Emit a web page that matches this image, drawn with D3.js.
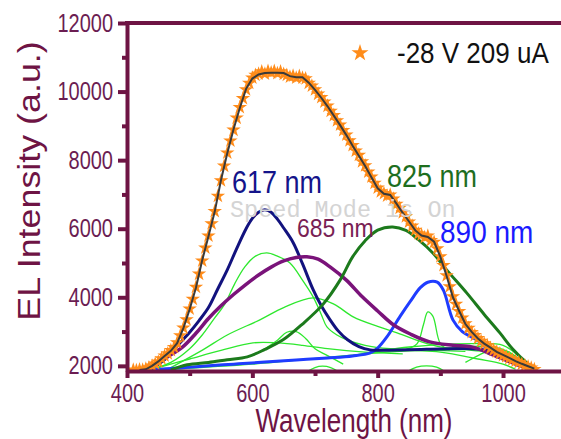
<!DOCTYPE html>
<meta charset="utf-8">
<style type="text/css">
    body { margin: 0; background: white; }
    svg text { font-family: "Liberation Sans", Arial, sans-serif; }
    .axis path, .axis line { stroke: #6e1444; stroke-width: 4; }
    .axis text { fill: #6b1d52; font-size: 20px; }
    .comp { fill: none; }
</style>
<body>
<script src="https://cdn.jsdelivr.net/npm/d3@7"></script>
<script>
    // measured EL spectrum (orange stars): [wavelength nm, intensity]
    var measured = [
        [410,1880],[415,1870],[420,1890],[425,1880],[430,1910],[435,1950],[440,2000],[445,2060],
        [450,2120],[455,2210],[460,2290],[465,2360],[470,2450],[475,2540],[480,2680],[485,2880],
        [490,3110],[495,3350],[500,3660],[505,3950],[510,4300],[515,4680],[520,5060],[525,5440],
        [530,5790],[535,6150],[540,6510],[545,6950],[550,7400],[555,7830],[560,8210],[565,8560],
        [570,8880],[575,9230],[580,9540],[585,9800],[590,10060],[595,10250],[600,10400],[605,10480],
        [610,10520],[615,10580],[620,10520],[625,10600],[630,10550],[635,10600],[640,10530],[645,10580],
        [650,10510],[655,10480],[660,10430],[665,10460],[670,10400],[675,10450],[680,10400],[685,10380],
        [690,10250],[695,10170],[700,10060],[705,9930],[710,9830],[715,9700],[720,9580],[725,9430],
        [730,9310],[735,9150],[740,9030],[745,8870],[750,8740],[755,8570],[760,8430],[765,8270],
        [770,8150],[775,7960],[780,7840],[785,7660],[790,7510],[795,7330],[800,7190],[805,7080],
        [810,7030],[815,6960],[820,6990],[825,6870],[830,6720],[835,6600],[840,6470],[845,6350],
        [850,6200],[855,6080],[860,5960],[865,5860],[870,5820],[875,5750],[880,5790],[885,5660],
        [890,5610],[895,5420],[900,5190],[905,4930],[910,4630],[915,4310],[920,4020],[925,3800],
        [930,3590],[935,3400],[940,3230],[945,3100],[950,2980],[955,2890],[960,2800],[965,2720],
        [970,2650],[975,2590],[980,2520],[985,2460],[990,2410],[995,2360],[1000,2310],[1005,2270],
        [1010,2220],[1015,2180],[1020,2140],[1025,2100],[1030,2050],[1035,2010],[1040,1980],[1045,1940],
        [1050,1900]
    ];

    // cumulative fit (dark gray)
    var fitSum = [
        [420,1880],[430,1900],[440,2000],[450,2130],[460,2290],[470,2440],[480,2660],[490,3100],
        [500,3650],[510,4280],[520,5080],[530,5780],[540,6500],[550,7420],[560,8200],[570,8900],
        [580,9520],[590,10080],[600,10380],[610,10500],[620,10540],[630,10550],[640,10550],[650,10540],
        [660,10450],[670,10420],[680,10420],[690,10260],[700,10050],[710,9820],[720,9570],[730,9300],
        [740,9020],[750,8730],[760,8420],[770,8130],[780,7830],[790,7500],[800,7180],[810,7020],
        [820,6985],[830,6730],[840,6460],[850,6210],[860,5950],[870,5800],[880,5760],[890,5620],
        [900,5180],[910,4620],[920,4000],[930,3600],[940,3220],[950,2990],[960,2800],[970,2650],
        [980,2530],[990,2410],[1000,2320],[1010,2230],[1020,2140],[1030,2060],[1040,1990],[1050,1920]
    ];

    // labelled peaks
    var peak617 = [[430,1900],[450,2050],[465,2260],[480,2580],[500,2980],[515,3320],[530,3700],
        [545,4250],[560,4800],[575,5420],[590,6000],[600,6300],[610,6480],[620,6550],[630,6480],
        [640,6280],[650,6020],[665,5600],[680,4980],[697,4220],[710,3750],[722,3400],[737,3020],
        [752,2760],[770,2560],[788,2466],[850,2470],[900,2490],[950,2500],[990,2400],[1020,2150],[1045,1920]];
    var peak685 = [[420,1880],[441,2030],[465,2270],[489,2554],[510,2950],[530,3380],[550,3750],
        [570,4080],[590,4380],[610,4650],[630,4880],[650,5060],[670,5160],[687,5180],[705,5110],
        [725,4870],[750,4500],[775,4020],[800,3600],[825,3200],[852,2930],[883,2700],[920,2600],
        [950,2554],[984,2320],[1010,2120],[1040,1920]];
    var peak825 = [[470,1880],[496,2030],[530,2100],[560,2180],[592,2262],[620,2480],[649,2758],
        [680,3220],[713,3800],[740,4500],[760,5180],[780,5650],[800,5960],[824,6053],
        [845,5950],[865,5680],[888,5294],[910,4800],[942,4128],[970,3500],[995,2962],[1015,2500],
        [1038,2087],[1050,1920]];
    var peak890 = [[430,1880],[470,1920],[520,1990],[570,2050],[620,2110],[670,2170],[720,2230],
        [760,2290],[788,2380],[800,2520],[815,2850],[836,3450],[852,3880],[868,4280],[880,4440],
        [895,4440],[905,4200],[920,3342],[935,3000],[958,2758],[975,2500],[995,2262],[1020,2050],[1040,1910]];

    // other fitted components (light green)
    var subPeaks = [
        [[440,1900],[470,2100],[500,2500],[520,2900],[540,3400],[556,3800],[572,4400],[588,4886],
         [605,5200],[623,5294],[640,5200],[660,5002],[680,4500],[697,4012],[710,3500],[719,3137],
         [735,2900],[751,2758],[780,2600],[820,2500],[880,2460],[940,2420]],
        [[470,1950],[521,2466],[560,2900],[612,3342],[650,3700],[697,3983],[730,3800],[761,3429],
         [800,3150],[831,2962],[870,2700],[900,2554],[950,2450],[1000,2350],[1040,1950]],
        [[600,2300],[620,2500],[640,2750],[655,2980],[670,3000],[685,2800],[700,2500],[720,2300],[745,2050]],
        [[450,1950],[500,2200],[550,2450],[601,2670],[640,2670],[680,2600],[720,2500],[780,2400],[840,2350]],
        [[845,2480],[863,2650],[873,3200],[880,3575],[888,3450],[900,2650],[915,2450]],
        [[760,2300],[850,2550],[950,2650],[1000,2600],[1030,2200],[1045,1920]],
        [[470,1900],[600,2050],[750,2300],[900,2500],[980,2560],[1010,2400],[1040,1950]],
        [[830,2450],[900,2400],[960,2200],[1000,2050],[1020,1900]],
        [[940,2100],[960,2300],[980,2450],[1000,2450],[1020,2250],[1040,1950]],
        [[685,1800],[700,1950],[712,1990],[725,1950],[740,1800]],
        [[845,1800],[862,1960],[878,2000],[894,1960],[910,1800]]
    ];

    var xTicks = [400, 600, 800, 1000];
    var xMinor = [500, 700, 900];
    var yTicks = [2000, 4000, 6000, 8000, 10000, 12000];
    var yMinor = [3000, 5000, 7000, 9000, 11000];

    var peakNames = ["617 nm", "685 nm", "825 nm", "890 nm"];
    var legendText = "-28 V 209 uA";

    var w = 561, h = 439;
    var mLeft = 127, mTop = 23, mBottom = 371;

    var x = d3.scaleLinear().domain([400, 1100]).range([mLeft, mLeft + 700 * 0.6267]);
    var y = d3.scaleLinear().domain([1850, 12000]).range([mBottom, mTop]);

    var svg = d3.select("body").append("svg")
        .attr("width", w)
        .attr("height", h);

    svg.append("clipPath").attr("id", "plot")
        .append("rect")
        .attr("x", mLeft).attr("y", mTop)
        .attr("width", w - mLeft).attr("height", mBottom - mTop);

    var plot = svg.append("g").attr("clip-path", "url(#plot)");

    var line = d3.line()
        .x(function(d) { return x(d[0]); })
        .y(function(d) { return y(d[1]); })
        .curve(d3.curveCatmullRom.alpha(0.5));

    plot.selectAll(".sub")
        .data(subPeaks)
        .enter()
        .append("path")
        .attr("class", "comp sub")
        .attr("d", line)
        .attr("stroke", "#2ee82e")
        .attr("stroke-width", 1.3);

    var mains = [
        { d: peak890, c: "#1f3cff", sw: 3 },
        { d: peak617, c: "#12127e", sw: 3 },
        { d: peak685, c: "#7a137a", sw: 3.5 },
        { d: peak825, c: "#1c7a1c", sw: 3 }
    ];
    plot.selectAll(".main")
        .data(mains)
        .enter()
        .append("path")
        .attr("class", "comp main")
        .attr("d", function(m) { return line(m.d); })
        .attr("stroke", function(m) { return m.c; })
        .attr("stroke-width", function(m) { return m.sw; });

    // stars
    var star = d3.symbol().type(d3.symbolStar).size(65);
    plot.selectAll(".star")
        .data(measured)
        .enter()
        .append("path")
        .attr("class", "star")
        .attr("d", star)
        .attr("transform", function(d) { return "translate(" + x(d[0]) + "," + y(d[1]) + ")"; })
        .attr("fill", "#ff8c1a");

    plot.append("path")
        .datum(fitSum)
        .attr("class", "comp")
        .attr("d", d3.line().x(function(d) { return x(d[0]); }).y(function(d) { return y(d[1]); }))
        .attr("stroke", "#3a3a3a")
        .attr("stroke-width", 2);

    // axes
    var gx = svg.append("g").attr("class", "axis")
        .attr("transform", "translate(0," + mBottom + ")")
        .call(d3.axisBottom(x).tickValues(xTicks).tickSize(7).tickSizeOuter(0).tickFormat(d3.format("d")));
    gx.selectAll("text")
        .attr("y", null).attr("dy", null)
        .attr("transform", "translate(0,31) scale(1,1.3)");

    svg.append("g").attr("class", "axis")
        .attr("transform", "translate(0," + mBottom + ")")
        .call(d3.axisBottom(x).tickValues(xMinor).tickSize(5).tickSizeOuter(0).tickFormat(""))
        .select(".domain").remove();

    var gy = svg.append("g").attr("class", "axis")
        .attr("transform", "translate(" + mLeft + ",0)")
        .call(d3.axisLeft(y).tickValues(yTicks).tickSize(9).tickSizeOuter(0).tickFormat(d3.format("d")));
    gy.selectAll("text")
        .attr("x", null).attr("dy", null)
        .attr("transform", "translate(-14,8) scale(1,1.3)");

    svg.append("g").attr("class", "axis")
        .attr("transform", "translate(" + mLeft + ",0)")
        .call(d3.axisLeft(y).tickValues(yMinor).tickSize(5).tickSizeOuter(0).tickFormat(""))
        .select(".domain").remove();

    // top frame
    svg.append("line")
        .attr("x1", mLeft - 2).attr("x2", w)
        .attr("y1", mTop).attr("y2", mTop)
        .attr("stroke", "#6e1444").attr("stroke-width", 4);

    // axis titles
    svg.append("text")
        .attr("transform", "translate(354,432) scale(1,1.25)")
        .attr("text-anchor", "middle")
        .attr("fill", "#6e1444")
        .style("font-size", "26px")
        .text("Wavelength (nm)");

    svg.append("text")
        .attr("transform", "translate(40,181) rotate(-90) scale(1.12,1)")
        .attr("text-anchor", "middle")
        .attr("fill", "#6e1444")
        .style("font-size", "32px")
        .text("EL Intensity (a.u.)");

    // watermark
    svg.append("text")
        .attr("x", 230).attr("y", 217)
        .attr("fill", "#d4d4d4")
        .style("font-family", "'Liberation Mono', 'DejaVu Sans Mono', monospace")
        .style("font-size", "23.5px")
        .text("Speed Mode is On");

    // peak labels
    var labels = [
        { t: peakNames[0], x: 232, y: 193, c: "#14148a", s: 27 },
        { t: peakNames[1], x: 297, y: 237, c: "#7a1f55", s: 23 },
        { t: peakNames[2], x: 387, y: 187, c: "#1e6e1e", s: 27 },
        { t: peakNames[3], x: 440, y: 243, c: "#1a1aff", s: 28 }
    ];
    svg.selectAll(".plabel")
        .data(labels)
        .enter()
        .append("text")
        .attr("class", "plabel")
        .attr("transform", function(d) { return "translate(" + d.x + "," + d.y + ") scale(1,1.15)"; })
        .attr("fill", function(d) { return d.c; })
        .style("font-size", function(d) { return d.s + "px"; })
        .text(function(d) { return d.t; });

    // legend
    svg.append("path")
        .attr("d", d3.symbol().type(d3.symbolStar).size(90))
        .attr("transform", "translate(360,53)")
        .attr("fill", "#ff8c1a");
    svg.append("text")
        .attr("transform", "translate(397,63) scale(1,1.1)")
        .attr("fill", "#111")
        .style("font-size", "26px")
        .text(legendText);
</script>
</body>
